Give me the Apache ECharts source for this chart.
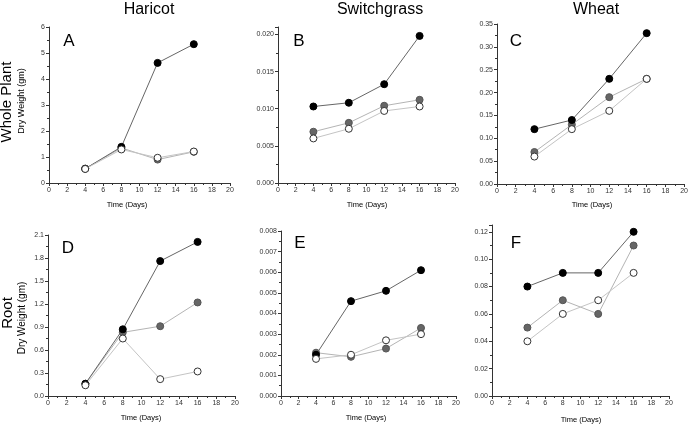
<!DOCTYPE html>
<html><head><meta charset="utf-8">
<script src="https://cdn.jsdelivr.net/npm/echarts@6/dist/echarts.min.js"></script>
<style>html,body{margin:0;padding:0;background:#fff}#c{width:691px;height:426px}</style>
</head><body><div id="c"></div>
<script>
const days = [4, 8, 12, 16];
const xTicks = [0, 2, 4, 6, 8, 10, 12, 14, 16, 18, 20];
const columnTitles = ['Haricot', 'Switchgrass', 'Wheat'];
const rowTitles = ['Whole Plant', 'Root'];
const panelLetters = ['A', 'B', 'C', 'D', 'E', 'F'];

// A: Haricot whole plant
const haricotWholeBlack = [0.55, 1.39, 4.62, 5.34];
const haricotWholeGrey  = [0.55, 1.35, 0.90, 1.20];
const haricotWholeOpen  = [0.54, 1.29, 0.97, 1.21];
// B: Switchgrass whole plant
const switchWholeBlack = [0.0103, 0.0108, 0.0133, 0.0198];
const switchWholeGrey  = [0.0069, 0.0081, 0.0104, 0.0112];
const switchWholeOpen  = [0.0060, 0.0073, 0.0097, 0.0103];
// C: Wheat whole plant
const wheatWholeBlack = [0.12, 0.14, 0.23, 0.33];
const wheatWholeGrey  = [0.07, 0.13, 0.19, 0.23];
const wheatWholeOpen  = [0.06, 0.12, 0.16, 0.23];
// D: Haricot root
const haricotRootBlack = [0.16, 0.87, 1.76, 2.01];
const haricotRootGrey  = [0.16, 0.83, 0.91, 1.22];
const haricotRootOpen  = [0.14, 0.75, 0.22, 0.32];
// E: Switchgrass root
const switchRootBlack = [0.0020, 0.0046, 0.0051, 0.0061];
const switchRootGrey  = [0.0021, 0.0019, 0.0023, 0.0033];
const switchRootOpen  = [0.0018, 0.0020, 0.0027, 0.0030];
// F: Wheat root
const wheatRootBlack = [0.08, 0.09, 0.09, 0.12];
const wheatRootGrey  = [0.05, 0.07, 0.06, 0.11];
const wheatRootOpen  = [0.04, 0.06, 0.07, 0.09];

const panels = [
  {grid:{left:49,top:27,width:181,height:156}, y:{min:0,max:6,interval:1,dec:0}, s:[haricotWholeGrey,haricotWholeBlack,haricotWholeOpen]},
  {grid:{left:278,top:27,width:177,height:156}, y:{min:0,max:0.021,interval:0.005,dec:3}, s:[switchWholeGrey,switchWholeBlack,switchWholeOpen]},
  {grid:{left:497,top:24,width:189,height:160}, y:{min:0,max:0.35,interval:0.05,dec:2}, s:[wheatWholeGrey,wheatWholeBlack,wheatWholeOpen]},
  {grid:{left:48,top:235,width:187,height:161}, y:{min:0,max:2.1,interval:0.3,dec:1}, s:[haricotRootGrey,haricotRootBlack,haricotRootOpen]},
  {grid:{left:281,top:231,width:175,height:165}, y:{min:0,max:0.008,interval:0.001,dec:3}, s:[switchRootGrey,switchRootBlack,switchRootOpen]},
  {grid:{left:492,top:225,width:177,height:171}, y:{min:0,max:0.125,interval:0.02,dec:2}, s:[wheatRootGrey,wheatRootBlack,wheatRootOpen]}
];

const FONT = 'Liberation Sans';
const axisCol = '#333';
const styles = [
  {line:'#b4b4b4', fill:'#666666', border:'#555555'},
  {line:'#666666', fill:'#000000', border:'#000000'},
  {line:'#c4c4c4', fill:'#ffffff', border:'#333333'}
];

const grid = [], xAxis = [], yAxis = [], series = [];
panels.forEach((p, i) => {
  grid.push(p.grid);
  xAxis.push({
    type:'value', gridIndex:i, min:xTicks[0], max:xTicks[xTicks.length-1], interval:2,
    axisLine:{lineStyle:{color:axisCol,width:1}},
    axisTick:{show:true,length:3,lineStyle:{color:axisCol}},
    minorTick:{show:true,splitNumber:2,length:2,lineStyle:{color:axisCol}},
    splitLine:{show:false},
    axisLabel:{fontSize:7,color:'#333',fontFamily:FONT,margin:4}
  });
  yAxis.push({
    type:'value', gridIndex:i, min:p.y.min, max:p.y.max, interval:p.y.interval,
    axisLine:{show:true,lineStyle:{color:axisCol,width:1}},
    axisTick:{show:true,length:3,lineStyle:{color:axisCol}},
    minorTick:{show:true,splitNumber:2,length:2,lineStyle:{color:axisCol}},
    splitLine:{show:false},
    axisLabel:{fontSize:7,color:'#333',fontFamily:FONT,margin:4,showMaxLabel:(p.y.max/p.y.interval)%1<1e-6||(p.y.max/p.y.interval)%1>1-1e-6,
      formatter:v=>Number(v).toFixed(p.y.dec)}
  });
  p.s.forEach((vals, k) => {
    const st = styles[k];
    series.push({
      type:'line', xAxisIndex:i, yAxisIndex:i,
      data: days.map((d, j) => [d, vals[j]]),
      symbol:'circle', symbolSize:7, showAllSymbol:true,
      lineStyle:{color:st.line,width:1},
      itemStyle:{color:st.fill,borderColor:st.border,borderWidth:1},
      emphasis:{disabled:true}, animation:false, z:2+k
    });
  });
});

const txt = (x, y, text, size, extra) => Object.assign({
  type:'text', x, y, style:{text, fontSize:size, fontFamily:FONT, fill:'#000', align:'center', verticalAlign:'middle'}
}, extra || {});

const graphic = [
  txt(149, 10, columnTitles[0], 16),
  txt(380, 10, columnTitles[1], 16),
  txt(596, 10, columnTitles[2], 16),
  txt(7, 102, rowTitles[0], 15, {rotation:Math.PI/2}),
  txt(8, 313, rowTitles[1], 15, {rotation:Math.PI/2}),
  txt(22, 101, 'Dry Weight (gm)', 9, {rotation:Math.PI/2}),
  txt(22, 318, 'Dry Weight (gm)', 10, {rotation:Math.PI/2}),
  txt(127, 205, 'Time (Days)', 7.5),
  txt(367, 205, 'Time (Days)', 7.5),
  txt(592, 205, 'Time (Days)', 7.5),
  txt(141, 418, 'Time (Days)', 7.5),
  txt(366, 418, 'Time (Days)', 7.5),
  txt(581, 420, 'Time (Days)', 7.5),
  txt(69, 41, panelLetters[0], 17),
  txt(299, 41, panelLetters[1], 17),
  txt(516, 41, panelLetters[2], 17),
  txt(68, 248, panelLetters[3], 17),
  txt(300, 243, panelLetters[4], 17),
  txt(516, 243, panelLetters[5], 17)
];

const chart = echarts.init(document.getElementById('c'), null, {renderer:'canvas'});
chart.setOption({animation:false, backgroundColor:'#fff', grid, xAxis, yAxis, series, graphic});
</script></body></html>
